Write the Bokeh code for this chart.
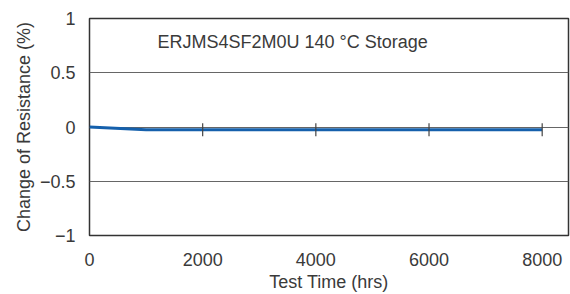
from bokeh.plotting import figure
from bokeh.embed import file_html
from bokeh.resources import INLINE
from bokeh.models import Range1d, FixedTicker, Label
import math

# Data
test_time = [0, 1000, 2000, 4000, 6000, 8000]
change = [0.0, -0.025, -0.025, -0.025, -0.025, -0.025]
marker_time = [2000, 4000, 6000, 8000]
marker_change = [-0.025, -0.025, -0.025, -0.025]
x_ticks = [0, 2000, 4000, 6000, 8000]
y_ticks = [-1, -0.5, 0, 0.5, 1]
y_tick_labels = {-1: "\u22121", -0.5: "\u22120.5", 0: "0", 0.5: "0.5", 1: "1"}
title_text = "ERJMS4SF2M0U 140 \u00b0C Storage"

FONT = "Liberation Sans"
TXT = "#3a3a3a"

p = figure(width=570, height=294, output_backend="svg", toolbar_location=None,
           x_range=Range1d(0, 8465), y_range=Range1d(-1, 1),
           min_border_left=89, min_border_top=18, min_border_right=2, min_border_bottom=57)

p.outline_line_color = "#333333"
p.outline_line_width = 1.5
p.background_fill_color = "white"
p.border_fill_color = "white"

p.xgrid.grid_line_color = None
p.ygrid.ticker = FixedTicker(ticks=[-0.5, 0, 0.5])
p.ygrid.grid_line_color = "#666666"
p.ygrid.grid_line_width = 1.2

p.xaxis.ticker = FixedTicker(ticks=x_ticks)
p.yaxis.ticker = FixedTicker(ticks=y_ticks)
p.yaxis.major_label_overrides = y_tick_labels
for ax in (p.xaxis[0], p.yaxis[0]):
    ax.axis_line_color = None
    ax.major_tick_line_color = None
    ax.minor_tick_line_color = None
    ax.major_label_text_font = FONT
    ax.major_label_text_font_size = "18px"
    ax.major_label_text_color = TXT
    ax.axis_label_text_font = FONT
    ax.axis_label_text_font_size = "18px"
    ax.axis_label_text_font_style = "normal"
    ax.axis_label_text_color = TXT
p.xaxis.major_label_standoff = 11
p.yaxis.major_label_standoff = 8
p.xaxis.axis_label = "Test Time (hrs)"
p.yaxis.axis_label = "Change of Resistance (%)"
p.xaxis.axis_label_standoff = 3
p.yaxis.axis_label_standoff = 3

p.line(test_time, change, line_color="#1560ac", line_width=3)
p.scatter(marker_time, marker_change, marker="dash", angle=math.pi / 2, size=13,
          line_color="#444444", line_width=1.2)

p.add_layout(Label(x=1200, y=0.78, text=title_text, text_font=FONT,
                   text_font_size="18px", text_color=TXT, text_baseline="middle"))

open("out.html", "w").write(file_html(p, INLINE))
